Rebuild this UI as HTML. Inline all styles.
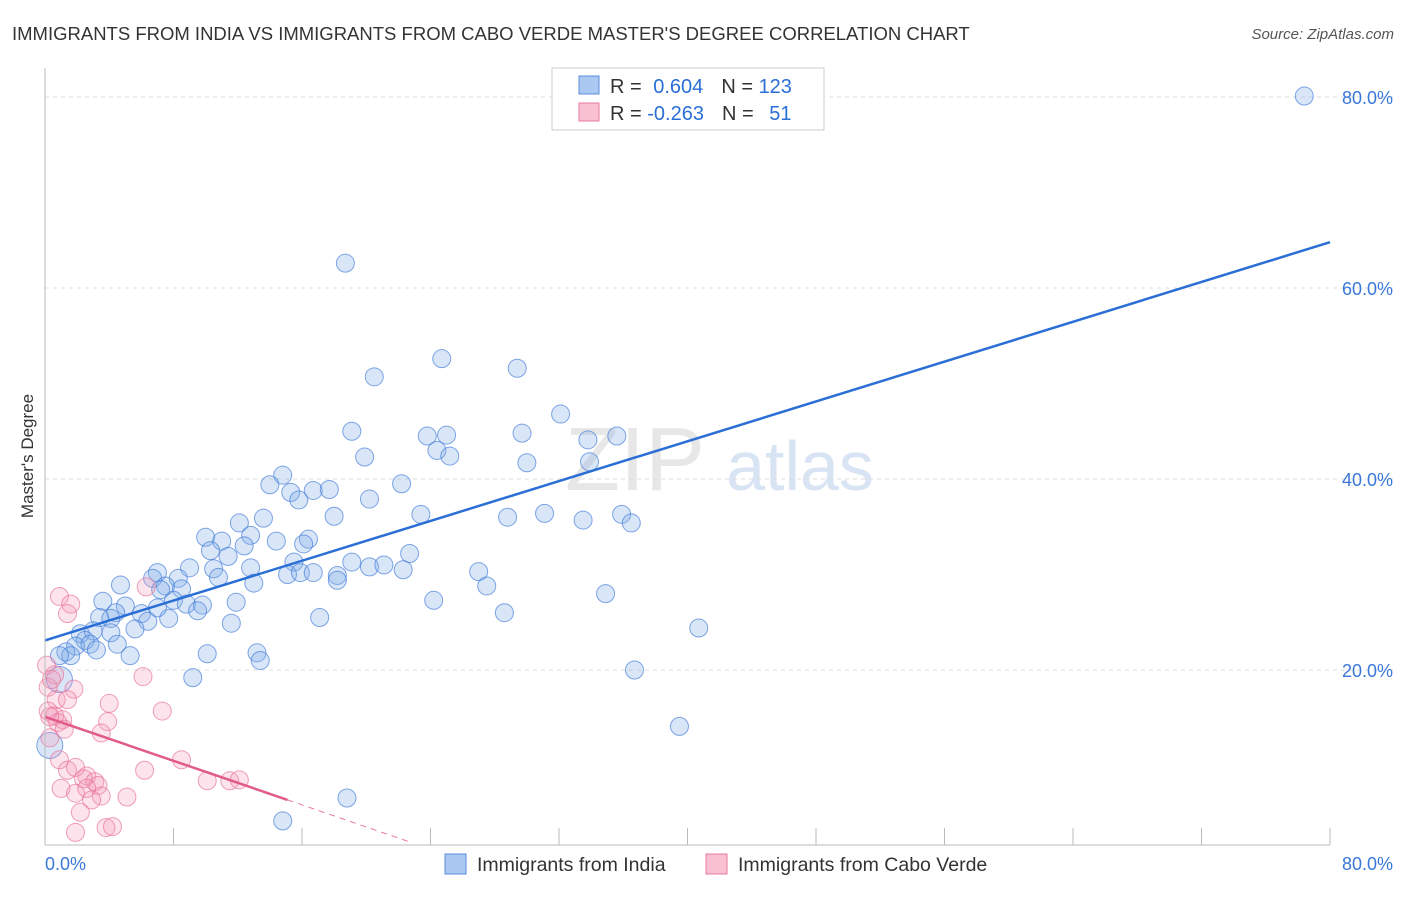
<!DOCTYPE html>
<html><head><meta charset="utf-8"><style>
body{margin:0;background:#fff;font-family:"Liberation Sans",sans-serif}
svg text{font-family:"Liberation Sans",sans-serif}
</style></head><body>
<svg id="chart" width="1406" height="892" viewBox="0 0 1406 892">
<text x="12" y="40" font-size="18.5" fill="#333">IMMIGRANTS FROM INDIA VS IMMIGRANTS FROM CABO VERDE MASTER'S DEGREE CORRELATION CHART</text>
<text x="1394" y="39" font-size="15" fill="#555" text-anchor="end" font-style="italic">Source: ZipAtlas.com</text>
<text x="33" y="456" font-size="17" fill="#333" text-anchor="middle" transform="rotate(-90 33 456)">Master's Degree</text>
<text x="635" y="490" font-size="90" fill="#ddd" font-family="Liberation Serif" text-anchor="middle" opacity="0.7">ZIP</text>
<text x="800" y="490" font-size="70" fill="#c8d8ef" text-anchor="middle" opacity="0.7">atlas</text>
<g id="grid"></g><g id="ticks"></g><g id="pts"></g><g id="trend"></g>
<line x1="45" y1="68" x2="45" y2="845" stroke="#bbb"/>
<line x1="45" y1="845" x2="1330" y2="845" stroke="#bbb"/>
<text x="45" y="870" font-size="18" fill="#3a78d8">0.0%</text>
<text x="1393" y="870" font-size="18" fill="#3a78d8" text-anchor="end">80.0%</text>
<g>
<rect x="552" y="68" width="272" height="62" fill="#fff" stroke="#ccc"/>
<rect x="579" y="76" width="20" height="18" fill="#aac8f0" stroke="#5a8ee0"/>
<rect x="579" y="103" width="20" height="18" fill="#f8c0d0" stroke="#e87aa0"/>
<text x="610" y="93" font-size="20" fill="#333">R = <tspan fill="#2a6fd6" dx="6">0.604</tspan><tspan dx="18" fill="#333">N = </tspan><tspan fill="#2a6fd6">123</tspan></text>
<text x="610" y="120" font-size="20" fill="#333">R = <tspan fill="#2a6fd6">-0.263</tspan><tspan dx="18" fill="#333">N = </tspan><tspan fill="#2a6fd6" dx="10">51</tspan></text>
</g>
<rect x="445" y="854" width="21" height="20" fill="#aac8f0" stroke="#5a8ee0"/>
<text x="477" y="871" font-size="19.5" fill="#333">Immigrants from India</text>
<rect x="706" y="854" width="21" height="20" fill="#f8c0d0" stroke="#e87aa0"/>
<text x="738" y="871" font-size="19.5" fill="#333">Immigrants from Cabo Verde</text>
</svg>
<script>
const yTicks=[20,40,60,80];
const yTickLabels=["20.0%","40.0%","60.0%","80.0%"];
const xTickVals=[0,8,16,24,32,40,48,56,64,72,80];
const indiaX=[78.4,18.7,24.7,29.4,20.5,32.1,19.1,23.8,25.0,29.7,33.8,35.6,24.4,25.2,19.9,30.0,33.9,14.8,14.0,22.2,15.3,16.7,17.7,15.8,20.2,23.4,28.8,31.1,33.5,35.9,36.5,18.0,13.6,12.1,10.0,12.8,11.0,14.4,16.4,16.1,12.4,10.3,11.4,22.7,19.1,15.5,9.0,10.5,12.8,20.2,21.1,22.3,27.0,7.0,6.7,8.3,10.8,15.1,15.9,16.7,18.2,18.2,13.0,27.5,4.7,7.5,8.5,7.2,34.9,24.2,3.6,8.0,8.8,5.0,9.8,11.9,7.0,4.4,6.0,3.4,4.1,7.7,9.5,17.1,28.6,6.4,11.6,5.6,4.1,2.2,3.0,2.5,1.9,2.8,4.5,3.2,1.3,1.6,5.3,10.1,13.2,13.4,40.7,36.7,9.2,39.5,0.9,0.3,18.8,14.8,0.9];
const indiaY=[80.1,62.6,52.6,51.6,50.7,46.8,45.0,44.5,44.6,44.8,44.1,44.5,43.0,42.4,42.3,41.7,41.8,40.4,39.4,39.5,38.6,38.8,38.9,37.8,37.9,36.3,36.0,36.4,35.7,36.3,35.4,36.1,35.9,35.4,33.9,34.1,33.5,33.5,33.7,33.2,33.0,32.5,31.9,32.2,31.3,31.3,30.7,30.6,30.7,30.8,31.0,30.5,30.3,30.2,29.6,29.6,29.7,30.0,30.2,30.2,29.9,29.4,29.1,28.8,28.9,28.8,28.5,28.4,28.0,27.3,27.2,27.3,26.9,26.7,26.8,27.1,26.5,26.0,25.9,25.5,25.4,25.4,26.2,25.5,26.0,25.1,24.9,24.3,23.9,23.8,24.1,23.1,22.5,22.7,22.7,22.1,21.9,21.5,21.5,21.7,21.8,21.0,24.4,20.0,19.2,14.1,19.0,12.1,6.6,4.2,21.5];
const caboX=[0.9,1.6,1.4,6.3,0.1,0.6,1.8,0.2,0.7,1.4,4.0,6.1,7.3,0.2,0.6,1.1,0.8,3.9,1.2,3.5,0.3,0.9,1.4,1.9,6.2,8.5,2.6,2.4,3.1,3.3,1.0,1.9,2.6,3.5,2.9,2.2,1.9,3.8,4.2,10.1,11.5,12.1,5.1,0.4,0.3];
const caboY=[27.7,26.9,25.9,28.7,20.5,19.5,18.0,18.2,16.9,16.9,16.5,19.3,15.7,15.7,15.2,14.8,14.5,14.6,13.8,13.4,12.9,10.6,9.5,9.8,9.5,10.6,8.9,8.6,8.3,7.9,7.6,7.1,7.6,6.8,6.4,5.1,3.0,3.5,3.6,8.4,8.4,8.5,6.7,19.0,15.1];
const indiaTrend=[[0,23.1],[80,64.8]];
const caboTrendSolid=[[0,15.1],[15.1,6.4]];
const caboTrendDash=[[15.1,6.4],[22.7,2.0]];
const NS="http://www.w3.org/2000/svg";
const X=v=>45+v/80*1285;
const Y=v=>861-v/20*191;
function mk(tag,attrs,parent){const e=document.createElementNS(NS,tag);for(const k in attrs)e.setAttribute(k,attrs[k]);parent.appendChild(e);return e;}
const grid=document.getElementById('grid'),ticks=document.getElementById('ticks'),pts=document.getElementById('pts'),trend=document.getElementById('trend');
yTicks.forEach((v,i)=>{
  const l=mk('line',{x1:45,x2:1393,y1:Y(v),y2:Y(v),stroke:'#ddd','stroke-dasharray':'4,4'},grid);
  
  
  const t=mk('text',{x:1393,y:Y(v)+7,'font-size':18,fill:'#3a78d8','text-anchor':'end'},grid);
  t.textContent=yTickLabels[i];
  
  
});
xTickVals.forEach(v=>{
  const l=mk('line',{x1:X(v),x2:X(v),y1:828,y2:845,stroke:'#bbb'},ticks);
  
  
});
indiaX.forEach((x,i)=>{
  const big=(x<1&&(indiaY[i]<20));
  const c=mk('circle',{cx:X(x),cy:Y(indiaY[i]),r:big?13:9,fill:'rgba(130,172,232,0.3)',stroke:'rgba(60,120,215,0.65)','stroke-width':1},pts);
  
  
});
caboX.forEach((x,i)=>{
  const c=mk('circle',{cx:X(x),cy:Y(caboY[i]),r:9,fill:'rgba(245,155,185,0.28)',stroke:'rgba(230,110,150,0.65)','stroke-width':1},pts);
  
  
});
const t1=mk('line',{x1:X(indiaTrend[0][0]),y1:Y(indiaTrend[0][1]),x2:X(indiaTrend[1][0]),y2:Y(indiaTrend[1][1]),stroke:'#2a6fd6','stroke-width':2.5},trend);


const t2=mk('line',{x1:X(caboTrendSolid[0][0]),y1:Y(caboTrendSolid[0][1]),x2:X(caboTrendSolid[1][0]),y2:Y(caboTrendSolid[1][1]),stroke:'#e05a8a','stroke-width':2.5},trend);


const t3=mk('line',{x1:X(caboTrendDash[0][0]),y1:Y(caboTrendDash[0][1]),x2:X(caboTrendDash[1][0]),y2:Y(caboTrendDash[1][1]),stroke:'#e87aa0','stroke-width':1,'stroke-dasharray':'6,5'},trend);


</script>
</body></html>
